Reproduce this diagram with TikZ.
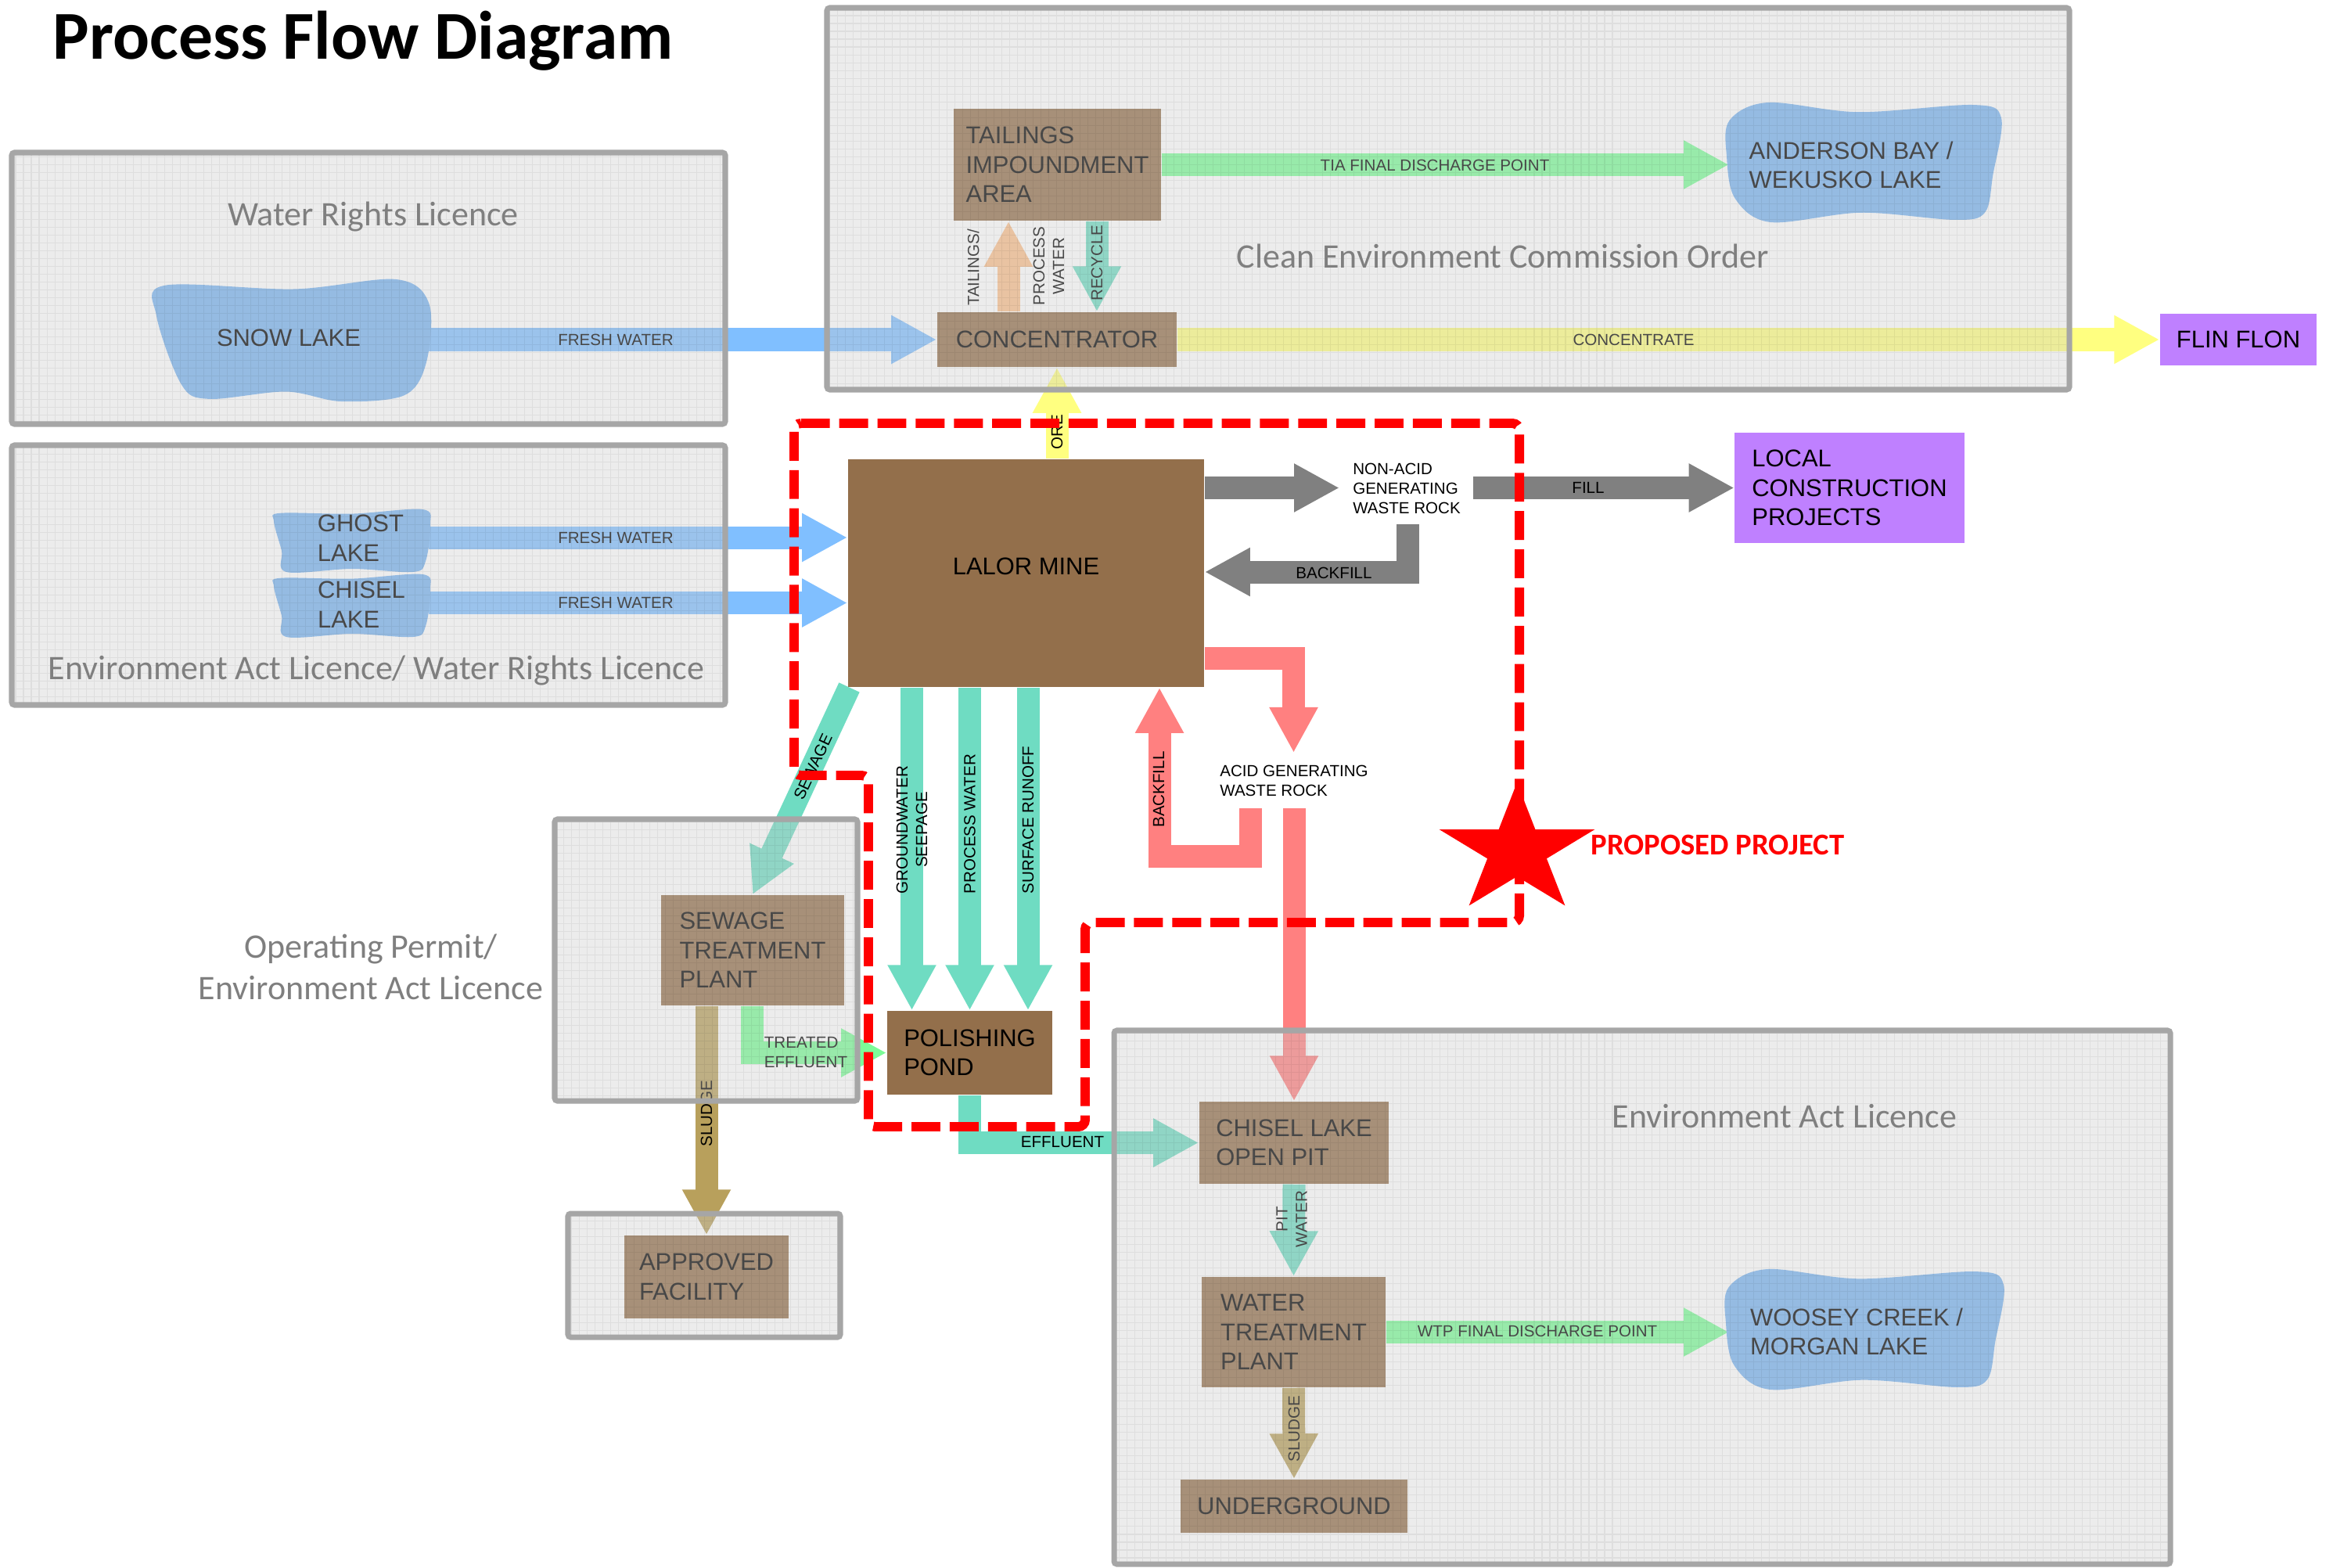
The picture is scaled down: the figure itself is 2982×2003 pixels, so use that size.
\documentclass[tikz,border=0pt]{standalone}
\usepackage{fontspec}
\setmainfont{Liberation Sans}
\newfontfamily\carl{Carlito}
\usetikzlibrary{arrows.meta}
\pgfdeclarelayer{arrowlayer}
\pgfdeclarelayer{ovlayer}
\pgfsetlayers{arrowlayer,main,ovlayer}
\newdimen\upx \upx=0.284528pt
\definecolor{brownN}{HTML}{936F4B}
\definecolor{lakeB}{HTML}{78B2F0}
\definecolor{arrB}{HTML}{80BFFF}
\definecolor{tealA}{HTML}{6FDCC2}
\definecolor{salmonA}{HTML}{FF8080}
\definecolor{grayA}{HTML}{808080}
\definecolor{yelA}{HTML}{FFFF80}
\definecolor{purpN}{HTML}{BF80FF}
\definecolor{greenA}{HTML}{7CFC98}
\definecolor{peachA}{HTML}{FBC08C}
\definecolor{tanA}{HTML}{B8A05C}
\definecolor{ovlG}{HTML}{CBCBCB}
\definecolor{frameG}{HTML}{A6A6A6}
\definecolor{titleG}{HTML}{7F7F7F}
\newcommand\bigtxt{\fontsize{8.8pt}{10.7pt}\selectfont}
\newcommand\smtxt{\fontsize{5.85pt}{7.1pt}\selectfont}
\newcommand\boxttl{\carl\fontsize{12.5pt}{15pt}\selectfont}
\tikzset{
  fat/.style={line width=8.25pt, line join=miter, line cap=butt, -{Triangle[length=16.5pt,width=16.5pt]}},
  nbox/.style={rectangle, inner sep=0pt, align=left, font=\bigtxt},
  lbl/.style={inner sep=0pt, font=\smtxt, align=center},
  txt/.style={inner sep=0pt, font=\bigtxt, align=left},
  ovl/.style={fill=ovlG, fill opacity=0.36},
  gridl/.style={draw=black, opacity=0.06, line width=0.3pt},
  frame/.style={draw=frameG, line width=2pt, rounded corners=1pt},
  ttl/.style={inner sep=0pt, font=\boxttl, text=titleG, align=center},
  prop/.style={draw=red, line width=3.4pt, dash pattern=on 10.5pt off 3.4pt, rounded corners=2.5pt}
}
\newcommand\licbox[4]{%
  \fill[ovl] (#1,#2) rectangle (#3,#4);
  \draw[gridl, step=2.845pt] (#1,#2) grid (#3,#4);
  \draw[frame] (#1,#2) rectangle (#3,#4);}
\begin{document}
\begin{tikzpicture}[x=0.01cm,y=-0.01cm]
\useasboundingbox (0,0) rectangle (2982,2003);

% ---------------- lakes (blobs) ----------------
\begin{scope}[shift={(200,357)},xscale=3.52,yscale=1.56]
\fill[lakeB] plot[smooth cycle,tension=0.55] coordinates {(3,5) (50,8) (87,0) (99,20) (98,68) (90,95) (67,100) (47,92) (19,98) (9,86) (0,30)};
\end{scope}
\begin{scope}[shift={(350,651)},xscale=2,yscale=0.8]
\fill[lakeB] plot[smooth cycle,tension=0.55] coordinates {(4,6) (50,7) (95,0) (100,25) (97,83) (89,100) (50,95) (8,100) (5,66) (0,19)};
\end{scope}
\begin{scope}[shift={(350,734)},xscale=2,yscale=0.8]
\fill[lakeB] plot[smooth cycle,tension=0.55] coordinates {(4,6) (50,7) (95,0) (100,25) (97,83) (89,100) (50,95) (8,100) (5,66) (0,19)};
\end{scope}
\begin{scope}[shift={(2207,131)},xscale=3.51,yscale=1.53]
\fill[lakeB] plot[smooth cycle,tension=0.55] coordinates {(15,0) (48,8) (90,2) (100,13) (97,60) (94,92) (83,98) (49,92) (16,100) (3,80) (0,45) (1,15)};
\end{scope}
\begin{scope}[shift={(2206,1622)},xscale=3.55,yscale=1.54]
\fill[lakeB] plot[smooth cycle,tension=0.55] coordinates {(15,0) (48,8) (90,2) (100,13) (97,60) (94,92) (83,98) (49,92) (16,100) (3,80) (0,45) (1,15)};
\end{scope}

% ---------------- nodes ----------------
\node[txt] (snow) at (369,432) {SNOW LAKE};
\node[txt] (ghost) at (461,688) {GHOST\\LAKE};
\node[txt] (chisel) at (462,773) {CHISEL\\LAKE};
\node[txt] (anderson) at (2366,211) {ANDERSON BAY /\\WEKUSKO LAKE};
\node[txt] (woosey) at (2373,1702) {WOOSEY CREEK /\\MORGAN LAKE};

\node[nbox, fill=brownN, minimum width=265\upx, minimum height=143\upx] (tia) at (1351.5,210.5) {TAILINGS\\IMPOUNDMENT\\AREA};
\node[nbox, fill=brownN, minimum width=306\upx, minimum height=70\upx] (conc) at (1351,434) {CONCENTRATOR};
\node[nbox, fill=purpN, minimum width=200\upx, minimum height=66\upx] (flin) at (2861,434) {FLIN FLON};
\node[nbox, fill=brownN, minimum width=455\upx, minimum height=291\upx] (mine) at (1311.5,732.5) {\raisebox{5pt}{LALOR MINE}};
\node[lbl, align=left] (nonacid) at (1798,624) {NON-ACID\\GENERATING\\WASTE ROCK};
\node[nbox, fill=purpN, minimum width=293\upx, minimum height=141\upx] (local) at (2364,623.5) {LOCAL\\CONSTRUCTION\\PROJECTS};
\node[lbl, align=left] (acid) at (1654,998) {ACID GENERATING\\WASTE ROCK};
\node[nbox, fill=brownN, minimum width=234\upx, minimum height=141\upx] (stp) at (962,1214.5) {SEWAGE\\TREATMENT\\PLANT};
\node[nbox, fill=brownN, minimum width=211\upx, minimum height=107\upx] (pond) at (1239.5,1345.5) {POLISHING\\POND};
\node[nbox, fill=brownN, minimum width=210\upx, minimum height=106\upx] (approved) at (903,1632) {APPROVED\\FACILITY};
\node[nbox, fill=brownN, minimum width=242\upx, minimum height=105\upx] (chiselpit) at (1654,1460.5) {CHISEL LAKE\\OPEN PIT};
\node[nbox, fill=brownN, minimum width=235\upx, minimum height=141\upx] (wtp) at (1653.5,1702.5) {WATER\\TREATMENT\\PLANT};
\node[nbox, fill=brownN, minimum width=290\upx, minimum height=68\upx] (under) at (1654,1925) {UNDERGROUND};

% ---------------- helper coordinates ----------------
\coordinate (snowE) at (545,434);
\coordinate (ghostE) at (548,687);
\coordinate (chiselE) at (548,770.5);
\coordinate (andW) at (2210,0);
\coordinate (woosW) at (2210,0);
\coordinate (tx) at (1289,0);
\coordinate (rx) at (1402,0);
\coordinate (ox) at (1351,0);
\coordinate (nagE) at (1712,623.5);
\coordinate (fillS) at (1883,623.5);
\coordinate (bfS) at (1799,670);
\coordinate (bfY) at (0,731);
\coordinate (acY) at (0,841);
\coordinate (acT) at (1653.5,962);
\coordinate (abS) at (1598.5,1033);
\coordinate (abC) at (1482,1094.5);
\coordinate (a2S) at (1654,1033);
\coordinate (gA) at (1165.5,0);
\coordinate (gB) at (1239.5,0);
\coordinate (gC) at (1314,0);
\coordinate (sewS) at (1085.5,878.5);
\coordinate (s1x) at (903,0);
\coordinate (tex) at (961,0);

% ---------------- arrows ----------------
\begin{pgfonlayer}{arrowlayer}
\draw[fat, draw=arrB] (snowE) -- (conc.west);
\draw[fat, draw=arrB] (ghostE) -- (ghostE -| mine.west);
\draw[fat, draw=arrB] (chiselE) -- (chiselE -| mine.west);
\draw[fat, draw=greenA] (tia.east) -- (tia.east -| andW);
\draw[fat, draw=peachA] (conc.north -| tx) -- (tia.south -| tx);
\draw[fat, draw=tealA] (tia.south -| rx) -- (conc.north -| rx);
\draw[fat, draw=yelA] (conc.east) -- (flin.west);
\draw[fat, draw=yelA] (mine.north -| ox) -- (conc.south -| ox);
\draw[fat, draw=grayA] (mine.east |- nagE) -- (nagE);
\draw[fat, draw=grayA] (fillS) -- (local.west);
\draw[fat, draw=grayA] (bfS) |- (mine.east |- bfY);
\draw[fat, draw=salmonA] (mine.east |- acY) -| (acT);
\draw[fat, draw=salmonA] (abS) |- (abC) -- (mine.south -| abC);
\draw[fat, draw=salmonA] (a2S) -- (chiselpit.north);
\draw[fat, draw=tealA] (chiselpit.south) -- (wtp.north);
\draw[fat, draw=greenA] (wtp.east) -- (wtp.east -| woosW);
\draw[fat, draw=tanA] (wtp.south) -- (under.north);
\draw[fat, draw=tealA] (mine.south -| gA) -- (pond.north -| gA);
\draw[fat, draw=tealA] (mine.south -| gB) -- (pond.north -| gB);
\draw[fat, draw=tealA] (mine.south -| gC) -- (pond.north -| gC);
\draw[fat, draw=tealA] (sewS) -- (stp.north);
\draw[fat, draw=tanA] (stp.south -| s1x) -- (approved.north -| s1x);
\draw[fat, draw=greenA] (stp.south -| tex) |- (pond.west);
\draw[fat, draw=tealA] (pond.south) |- (chiselpit.west);

% arrow labels
\node[lbl] (lfw1) at (787,434) {FRESH WATER};
\node[lbl] (lfw2) at (787,687) {FRESH WATER};
\node[lbl] (lfw3) at (787,770.5) {FRESH WATER};
\node[lbl] (ltia) at (1834,211) {TIA FINAL DISCHARGE POINT};
\node[lbl, rotate=90] (ltail) at (1244,342) {TAILINGS/};
\node[lbl, rotate=90] (lpw1) at (1340.5,340) {PROCESS\\WATER};
\node[lbl, rotate=90] (lrecy) at (1402,336) {RECYCLE};
\node[lbl] (lconc) at (2088,434) {CONCENTRATE};
\node[lbl, rotate=90] (lore) at (1351,552) {ORE};
\node[lbl] (lfill) at (2030,623.5) {FILL};
\node[lbl] (lbf1) at (1705,732) {BACKFILL};
\node[lbl, rotate=90] (lbf2) at (1481,1009) {BACKFILL};
\node[lbl, rotate=90] (lpit) at (1651,1558) {PIT\\WATER};
\node[lbl] (lwtp) at (1965,1701) {WTP FINAL DISCHARGE POINT};
\node[lbl, rotate=90] (lsl2) at (1654,1826) {SLUDGE};
\node[lbl, rotate=90] (lsl1) at (903,1423) {SLUDGE};
\node[lbl, align=left] (lte) at (1030,1345) {TREATED\\EFFLUENT};
\node[lbl] (leff) at (1358,1460) {EFFLUENT};
\node[lbl, rotate=65] (lsew) at (1039,980) {SEWAGE};
\node[lbl, rotate=90, anchor=west] (lgw) at (1165.5,1143) {GROUNDWATER\\SEEPAGE};
\node[lbl, rotate=90, anchor=west] (lpw2) at (1239.5,1143) {PROCESS WATER};
\node[lbl, rotate=90, anchor=west] (lsr) at (1314,1143) {SURFACE RUNOFF};
\end{pgfonlayer}

% ---------------- licence boxes (translucent overlays) ----------------
\begin{pgfonlayer}{ovlayer}
\licbox{15}{195}{927}{542}
\licbox{15}{569}{927}{901}
\licbox{1057}{10}{2645}{498}
\licbox{709}{1047}{1096}{1407}
\licbox{726}{1551}{1074}{1709}
\licbox{1424}{1317}{2774}{1999}

\node[ttl] (t1) at (477,277) {Water Rights Licence};
\node[ttl] (t2) at (481,857) {Environment Act Licence/ Water Rights Licence};
\node[ttl] (t3) at (1921,327) {Clean Environment Commission Order};
\node[ttl] (t4) at (474,1236) {Operating Permit/\\Environment Act Licence};
\node[ttl] (t5) at (2281,1427) {Environment Act Licence};

\node[anchor=base west, inner sep=0pt, font=\carl\bfseries\fontsize{24.9pt}{28pt}\selectfont] (title) at (67,76) {Process Flow Diagram};

% proposed project outline
\draw[prop] (1015,541) -- (1942,541) -- (1942,1179) -- (1387,1179) -- (1387,1440) -- (1110,1440) -- (1110,991) -- (1015,991) -- cycle;
\fill[red] (1939,1000) -- (1962.4,1060.1) -- (2038.3,1060.1) -- (1976.9,1097.3) -- (2000.4,1157.4) -- (1939,1120.2) -- (1877.6,1157.4) -- (1901.1,1097.3) -- (1839.7,1060.1) -- (1915.6,1060.1) -- cycle;
\node[anchor=west, inner sep=0pt, text=red, font=\carl\bfseries\fontsize{11pt}{13pt}\selectfont] (proptxt) at (2033,1080) {PROPOSED PROJECT};
\end{pgfonlayer}
\end{tikzpicture}
\end{document}
